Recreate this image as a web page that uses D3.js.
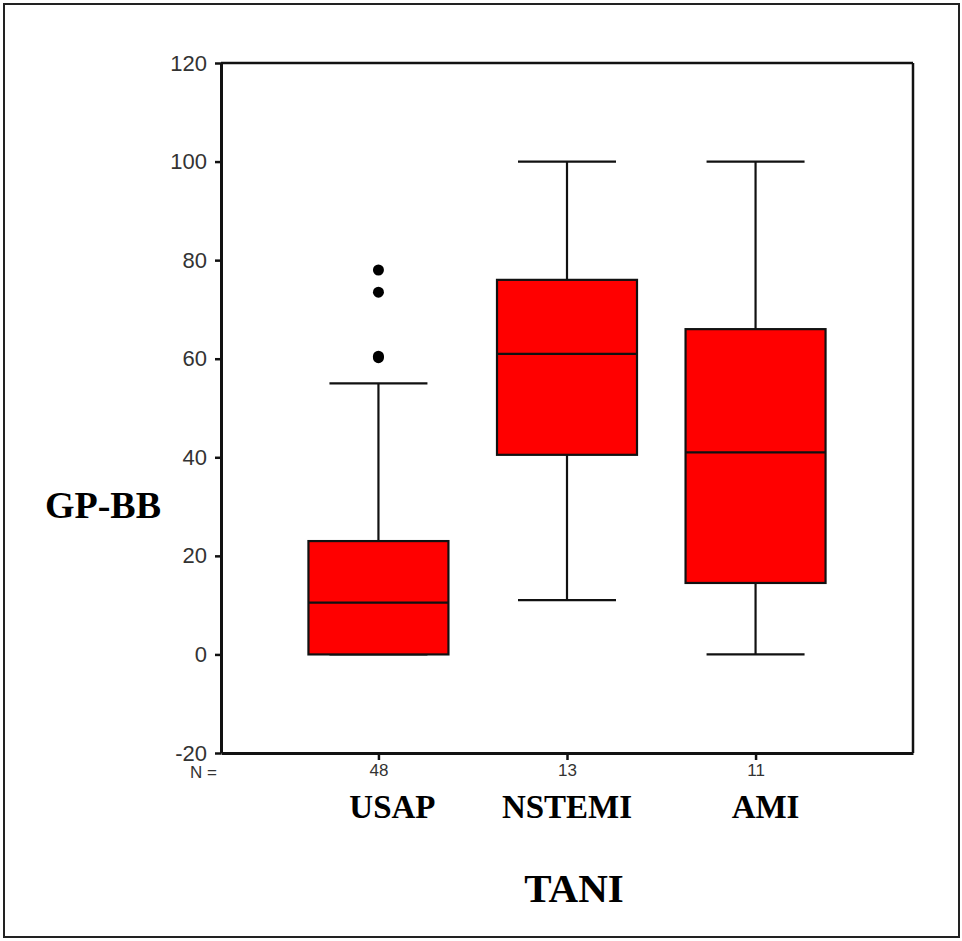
<!DOCTYPE html>
<html><head><meta charset="utf-8">
<script src="https://cdn.jsdelivr.net/npm/d3@7"></script>
<style>body{margin:0;background:#fff}svg{display:block}</style>
</head><body>
<script>
const categories = ["USAP", "NSTEMI", "AMI"];
const counts = [48, 13, 11];
const whiskerLow = [0, 11, 0];
const q1 = [0, 40.5, 14.5];
const median = [10.5, 61, 41];
const q3 = [23, 76, 66];
const whiskerHigh = [55, 100, 100];
const outliers = [[78, 0], [73.5, 0], [60.5, 0], [60.2, 0]]; // [value, category index]
const yTicks = [-20, 0, 20, 40, 60, 80, 100, 120];

const W = 962, H = 941;
const svg = d3.select("body").append("svg").attr("width", W).attr("height", H);
svg.append("rect").attr("x", 4).attr("y", 4).attr("width", 955).attr("height", 933)
  .attr("fill", "#fff").attr("stroke", "#222").attr("stroke-width", 2);

const L = 221, R = 913, T = 63, B = 753;
const y = d3.scaleLinear().domain([-20, 120]).range([B, T]);
const x = d3.scalePoint().domain(categories).range([L, R]).padding(0.835);

// frame top/right
svg.append("line").attr("x1", L).attr("x2", R).attr("y1", T).attr("y2", T).attr("stroke", "#111").attr("stroke-width", 2.5);
svg.append("line").attr("x1", R).attr("x2", R).attr("y1", T).attr("y2", B).attr("stroke", "#111").attr("stroke-width", 2.5);

const yAxis = svg.append("g").attr("transform", `translate(${L},0)`)
  .call(d3.axisLeft(y).tickValues(yTicks).tickSize(6).tickSizeOuter(0).tickPadding(8).tickFormat(d => String(d)));
yAxis.select(".domain").attr("stroke", "#111").attr("stroke-width", 3);
yAxis.selectAll(".tick line").attr("stroke", "#111").attr("stroke-width", 2.5);
yAxis.selectAll("text").attr("font-family", "Liberation Sans, Arial, sans-serif").attr("font-size", 22).attr("fill", "#333");

const xAxis = svg.append("g").attr("transform", `translate(0,${B})`)
  .call(d3.axisBottom(x).tickSize(7).tickSizeOuter(0).tickFormat((d, i) => counts[i]).tickPadding(4));
xAxis.select(".domain").attr("stroke", "#111").attr("stroke-width", 3);
xAxis.selectAll(".tick line").attr("stroke", "#111").attr("stroke-width", 2.5);
xAxis.selectAll("text").attr("font-family", "Liberation Sans, Arial, sans-serif").attr("font-size", 17).attr("fill", "#333");

svg.append("text").attr("x", 190).attr("y", 778).attr("text-anchor", "start")
  .attr("font-family", "Liberation Sans, Arial, sans-serif").attr("font-size", 17).attr("fill", "#333").text("N =");

const boxW = 140, capW = 98;
const labelShift = { USAP: 14, NSTEMI: 0, AMI: 10 };
const g = svg.append("g");
categories.forEach((c, i) => {
  const cx = x(c);
  g.append("line").attr("x1", cx).attr("x2", cx).attr("y1", y(whiskerHigh[i])).attr("y2", y(q3[i])).attr("stroke", "#111").attr("stroke-width", 2.2);
  g.append("line").attr("x1", cx).attr("x2", cx).attr("y1", y(q1[i])).attr("y2", y(whiskerLow[i])).attr("stroke", "#111").attr("stroke-width", 2.2);
  g.append("line").attr("x1", cx - capW / 2).attr("x2", cx + capW / 2).attr("y1", y(whiskerHigh[i])).attr("y2", y(whiskerHigh[i])).attr("stroke", "#111").attr("stroke-width", 2.2);
  g.append("line").attr("x1", cx - capW / 2).attr("x2", cx + capW / 2).attr("y1", y(whiskerLow[i])).attr("y2", y(whiskerLow[i])).attr("stroke", "#111").attr("stroke-width", 2.2);
  g.append("rect").attr("x", cx - boxW / 2).attr("y", y(q3[i])).attr("width", boxW).attr("height", y(q1[i]) - y(q3[i]))
    .attr("fill", "#ff0000").attr("stroke", "#111").attr("stroke-width", 2.2);
  g.append("line").attr("x1", cx - boxW / 2).attr("x2", cx + boxW / 2).attr("y1", y(median[i])).attr("y2", y(median[i])).attr("stroke", "#111").attr("stroke-width", 2.2);
  svg.append("text").attr("x", cx + labelShift[c]).attr("y", 818).attr("text-anchor", "middle")
    .attr("font-family", "Liberation Serif, Times New Roman, serif").attr("font-weight", "bold").attr("font-size", 33).attr("fill", "#000").text(c);
});
outliers.forEach(([v, i]) => {
  g.append("circle").attr("cx", x(categories[i])).attr("cy", y(v)).attr("r", 5.5).attr("fill", "#000");
});

svg.append("text").attr("x", 103).attr("y", 518).attr("text-anchor", "middle")
  .attr("font-family", "Liberation Serif, Times New Roman, serif").attr("font-weight", "bold").attr("font-size", 38).attr("fill", "#000").text("GP-BB");
svg.append("text").attr("x", 574).attr("y", 902).attr("text-anchor", "middle")
  .attr("font-family", "Liberation Serif, Times New Roman, serif").attr("font-weight", "bold").attr("font-size", 41).attr("fill", "#000").text("TANI");
</script>
</body></html>
